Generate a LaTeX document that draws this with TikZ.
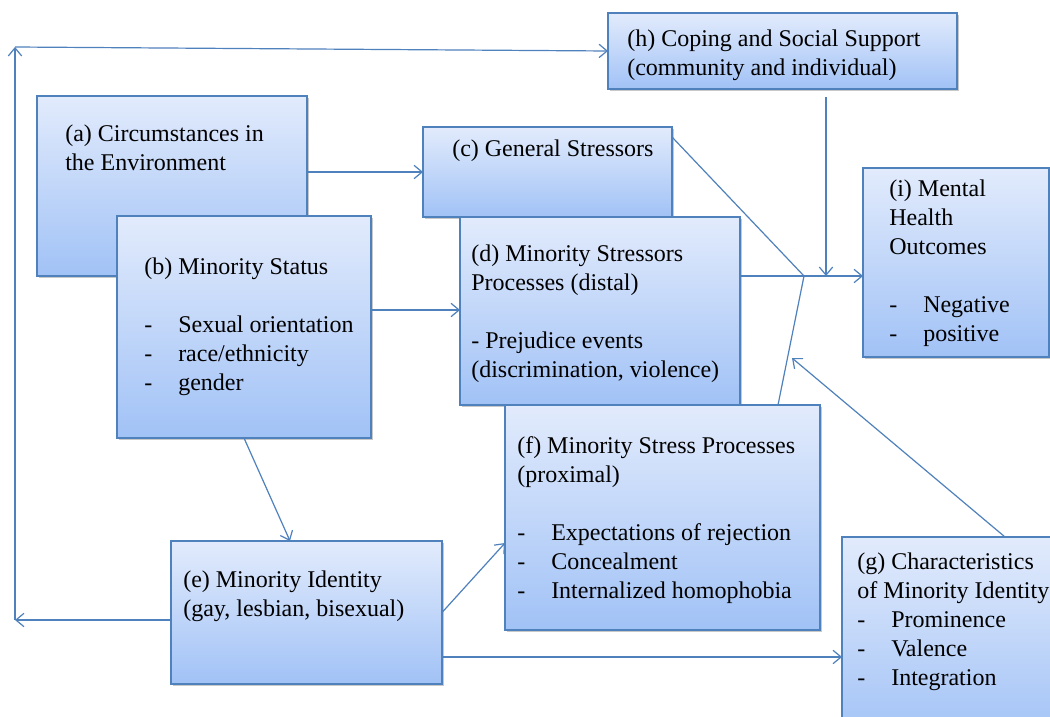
\documentclass[tikz,border=0pt]{standalone}
\usepackage{fontspec}
\setmainfont{Liberation Serif}
\usetikzlibrary{arrows.meta,shadows,fit}
\definecolor{edge}{RGB}{79,129,189}
\definecolor{topfill}{RGB}{226,235,252}
\definecolor{botfill}{RGB}{161,194,246}
\newcommand{\itm}[1]{\makebox[25.5pt][l]{-}#1}
\begin{document}
\begin{tikzpicture}[x=0.75pt,y=-0.75pt,
  box/.style={draw=edge, line width=0.9pt, top color=topfill, bottom color=botfill,
    drop shadow={opacity=0.3, shadow xshift=1.3pt, shadow yshift=-1.3pt, fill=black!70},
    inner sep=0pt, outer sep=0pt},
  txt/.style={anchor=north west, inner sep=0pt, align=left,
    font=\fontsize{18}{21.75}\selectfont},
  arr/.style={draw=edge, line width=0.9pt, -{Straight Barb[length=6pt,width=10pt]}},
  ln/.style={draw=edge, line width=0.9pt}]

\fill[white] (0,0) rectangle (1050,717);
\useasboundingbox (0,0) rectangle (1050,717);

% boxes
\node[box, fit={(37,96) (307,276)}] (a) {};
\node[box, fit={(117,216) (371,438)}] (b) {};
\node[box, fit={(423,127) (672,217)}] (c) {};
\node[box, fit={(460,217) (740,405)}] (d) {};
\node[box, fit={(505,405) (820,630)}] (f) {};
\node[box, fit={(171,541) (442,684)}] (e) {};
\node[box, fit={(842,537) (1070,740)}] (g) {};
\node[box, fit={(608,13) (957,89)}] (h) {};
\node[box, fit={(863,168) (1049,357)}] (i) {};

% texts
\node[txt] (ta) at (65,125) {(a) Circumstances in\\the Environment};
\node[txt] (tb) at (144,258) {(b) Minority Status\\[21.75pt]\itm{Sexual orientation}\\\itm{race/ethnicity}\\\itm{gender}};
\node[txt] (tc) at (452,140) {(c) General Stressors};
\node[txt] (td) at (471,245) {(d) Minority Stressors\\Processes (distal)\\[21.75pt]- Prejudice events\\(discrimination, violence)};
\node[txt] (te) at (183,571) {(e) Minority Identity\\(gay, lesbian, bisexual)};
\node[txt] (tf) at (517,436) {(f) Minority Stress Processes\\(proximal)\\[21.75pt]\itm{Expectations of rejection}\\\itm{Concealment}\\\itm{Internalized homophobia}};
\node[txt] (tg) at (857,553) {(g) Characteristics\\of Minority Identity\\\itm{Prominence}\\\itm{Valence}\\\itm{Integration}};
\node[txt] (th) at (627,30) {(h) Coping and Social Support\\(community and individual)};
\node[txt] (ti) at (889,180) {(i) Mental\\Health\\Outcomes\\[21.75pt]\itm{Negative}\\\itm{positive}};

% helper points for connector ends
\coordinate (lb) at (15,620);
\coordinate (lt) at (15,47);
\coordinate (yac) at (0,172);
\coordinate (ybd) at (0,310);
\coordinate (xbe) at (290,0);
\coordinate (yef) at (0,543);
\coordinate (yeg) at (0,657);
\coordinate (j) at (804,276);
\coordinate (cc) at (672,137);
\coordinate (xf) at (778,0);
\coordinate (hs) at (826,97);
\coordinate (gt) at (1005,537);
\coordinate (gi) at (792,358);

% connectors
\draw[arr] (e.west |- lb) -- (lb);
\draw[arr] (lb) -- (lt);
\draw[arr] (lt) -- (h.west);
\draw[arr] (a.east |- yac) -- (c.west |- yac);
\draw[arr] (b.east |- ybd) -- (d.west |- ybd);
\draw[arr] (b.south) -- (e.north -| xbe);
\draw[arr] (e.east) -- (f.west |- yef);
\draw[arr] (e.east |- yeg) -- (g.west |- yeg);
\draw[arr] (d.east |- j) -- (i.west |- j);
\draw[ln] (cc) -- (j);
\draw[ln] (f.north -| xf) -- (j);
\draw[arr] (hs) -- (hs |- j);
\draw[arr] (gt) -- (gi);
\end{tikzpicture}
\end{document}
